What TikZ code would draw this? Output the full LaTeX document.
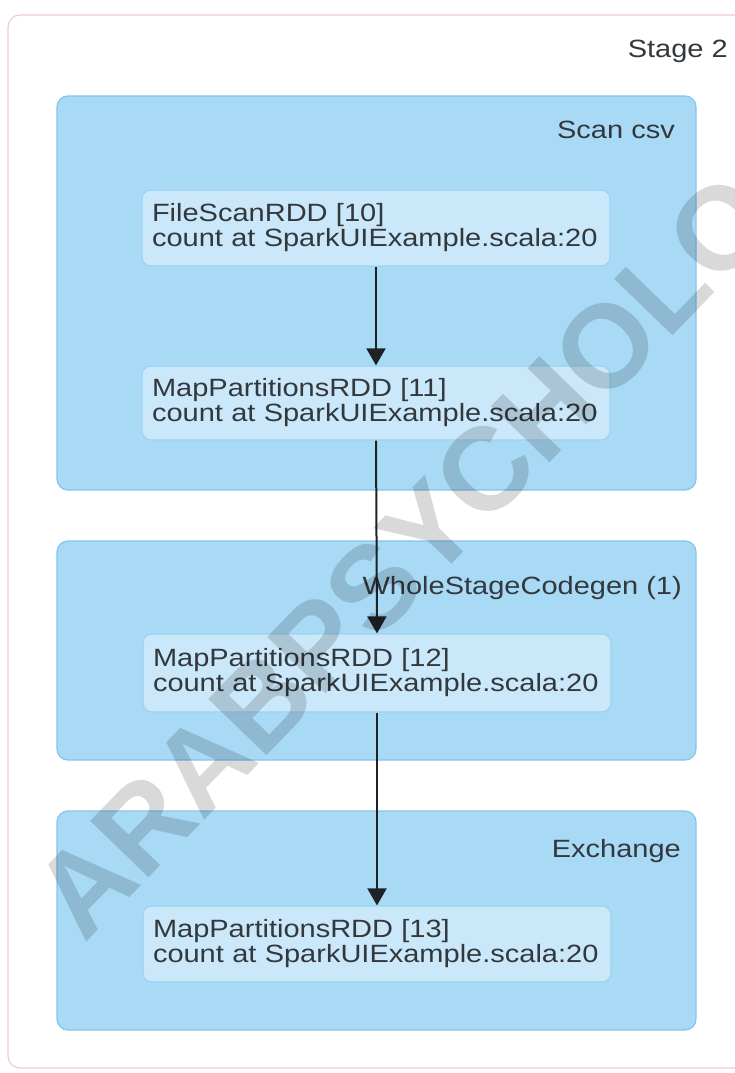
\documentclass[tikz,border=0pt]{standalone}
\usepackage{fontspec}
\setmainfont{Liberation Sans}
\newfontfamily\uifont[FakeStretch=1.16]{Liberation Sans}
\newfontfamily\wmfont{Liberation Sans}
\usetikzlibrary{arrows.meta}
\definecolor{stageborder}{HTML}{F0CCD2}
\definecolor{clusterfill}{HTML}{A8DAF6}
\definecolor{clusterborder}{HTML}{86C5EA}
\definecolor{rddfill}{HTML}{CAE8FA}
\definecolor{rddborder}{HTML}{9ED3F0}
\definecolor{txt}{HTML}{33383D}
\definecolor{edge}{HTML}{1E2226}
\tikzset{
  stagebox/.style={draw=stageborder, fill=white, line width=1.2pt, rounded corners=12pt},
  clusterbox/.style={draw=clusterborder, fill=clusterfill, line width=1.2pt, rounded corners=11pt},
  rdd/.style={draw=rddborder, fill=rddfill, line width=1.2pt, rounded corners=9pt,
    minimum width=468pt, text width=448pt, inner xsep=10pt, inner ysep=0pt, align=left,
    text=txt, font=\uifont\fontsize{25}{25}\selectfont},
  clabel/.style={anchor=base east, inner sep=0pt, text=txt, font=\uifont\fontsize{25}{25}\selectfont},
  flow/.style={draw=edge, line width=2pt, -{Triangle[width=19pt,length=17pt]}},
  watermark/.style={text=black, opacity=0.15, inner sep=0pt, font=\wmfont\bfseries\fontsize{118}{118}\selectfont}
}
\begin{document}
\begin{tikzpicture}[x=1pt,y=-1pt]
\useasboundingbox (0,0) rectangle (735,1073);
\fill[white] (0,0) rectangle (735,1073);
% stage
\draw[stagebox] (8,15) rectangle (760,1068);
\node[clabel] (stagelbl) at (728,58) {Stage 2};
% clusters
\draw[clusterbox] (57,96) rectangle (696,490);
\node[clabel] (scanlbl) at (675,138) {Scan csv};
\draw[clusterbox] (57,541) rectangle (696,760);
\node[clabel] (wsclbl) at (682,594) {WholeStageCodegen (1)};
\draw[clusterbox] (57,811) rectangle (696,1030);
\node[clabel] (exlbl) at (681,857) {Exchange};
% rdd nodes
\node[rdd, minimum height=76pt] (n10) at (376,228) {FileScanRDD [10]\\count at SparkUIExample.scala:20};
\node[rdd, minimum height=74pt] (n11) at (376,403) {MapPartitionsRDD [11]\\count at SparkUIExample.scala:20};
\node[rdd, minimum height=78pt] (n12) at (377,673) {MapPartitionsRDD [12]\\count at SparkUIExample.scala:20};
\node[rdd, minimum height=76pt] (n13) at (377,944) {MapPartitionsRDD [13]\\count at SparkUIExample.scala:20};
% edges
\draw[flow] (n10.south) -- (n11.north);
\draw[flow] (n11.south) -- (n12.north);
\draw[flow] (n12.south) -- (n13.north);
% watermark
\node[watermark, rotate=46, anchor=base west] (wm) at (84,945) {ARABPSYCHOLOGY};
\end{tikzpicture}
\end{document}
